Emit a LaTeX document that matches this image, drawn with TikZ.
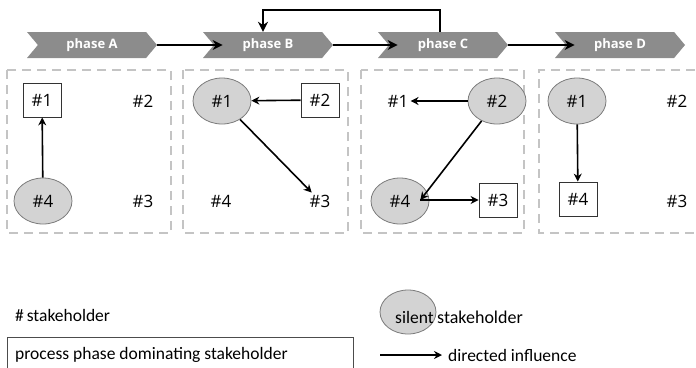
\documentclass[tikz,border=0pt]{standalone}
\usepackage{fontspec}
\setmainfont{Carlito}
\newfontfamily\labfont{Open Sans}
\usetikzlibrary{shapes.geometric,shapes.symbols,arrows.meta}
\definecolor{phasegray}{HTML}{8C8C8C}
\definecolor{dashgray}{HTML}{C4C4C4}
\definecolor{silentfill}{HTML}{D3D3D3}
\definecolor{silentline}{HTML}{7A7A7A}
\tikzset{
  phasebox/.style={signal, signal to=east, signal from=west, signal pointer angle=100,
    fill=phasegray, draw=none, minimum width=130pt, minimum height=26pt, inner sep=0pt,
    text=white, font=\labfont\bfseries\fontsize{13}{15}\selectfont},
  phasearr/.style={line width=2.6pt, -{Stealth[length=10pt,width=10pt]}},
  infl/.style={line width=1.6pt, -{Stealth[length=8pt,width=8pt]}},
  zone/.style={dashgray, line width=2pt, dash pattern=on 9pt off 6pt},
  stake/.style={font=\labfont\fontsize{17}{20}\selectfont, inner sep=2pt},
  dom/.style={stake, draw=black!80, line width=0.8pt, minimum width=38pt, minimum height=34pt},
  silent/.style={stake, ellipse, fill=silentfill, draw=silentline, line width=0.8pt,
    minimum width=58pt, minimum height=46pt, inner sep=0pt},
  legend/.style={font=\fontsize{17.5}{20}\selectfont, inner sep=0pt, anchor=west}
}
\begin{document}
\begin{tikzpicture}[x=1pt, y=-1pt]
\useasboundingbox (0,0) rectangle (696,367);

% process phases
\node[phasebox] (pa) at (92,45) {phase A};
\node[phasebox] (pb) at (268,45) {phase B};
\node[phasebox] (pc) at (443,45) {phase C};
\node[phasebox] (pd) at (620,45) {phase D};
\draw[phasearr] (pa.east) -- ([xshift=9pt]pb.west);
\draw[phasearr] (pb.east) -- ([xshift=9pt]pc.west);
\draw[phasearr] (pc.east) -- ([xshift=9pt]pd.west);
\draw[phasearr] ([xshift=-3pt]pc.north) -- ++(0,-22) -| ([xshift=-5pt]pb.north);

% phase zones
\draw[zone] (7,70) rectangle (171,233);
\draw[zone] (183,70) rectangle (348,233);
\draw[zone] (361,70) rectangle (524,233);
\draw[zone] (710,70) -- (539,70) -- (539,233) -- (710,233);

% phase A
\node[dom] (a1) at (42,100) {\#1};
\node[stake] (a2) at (143,101) {\#2};
\node[silent] (a4) at (43,201) {\#4};
\node[stake] (a3) at (143,201) {\#3};
\draw[infl] (a4) -- (a1);

% phase B
\node[silent] (b1) at (222,101) {\#1};
\node[dom] (b2) at (320,100) {\#2};
\node[stake] (b4) at (221,201) {\#4};
\node[stake] (b3) at (320,201) {\#3};
\draw[infl] (b2) -- (b1);
\draw[infl] (b1) -- (b3);

% phase C
\node[stake] (c1) at (398,101) {\#1};
\node[silent] (c2) at (497,101) {\#2};
\node[silent] (c4) at (400,201) {\#4};
\node[dom] (c3) at (498,200) {\#3};
\coordinate (c4in) at ([xshift=-9pt,yshift=1pt]c4.east);
\draw[infl] (c2) -- (c1);
\draw[infl] (c2) -- (c4in);
\draw[infl] (c4in) -- (c3.west);

% phase D
\node[silent] (d1) at (577,101) {\#1};
\node[stake] (d2) at (677,101) {\#2};
\node[dom] (d4) at (578,199) {\#4};
\node[stake] (d3) at (677,201) {\#3};
\draw[infl] (d1) -- (d4);

% legend
\node[legend] (k1) at (15,315) {\#\,stakeholder};
\draw[black!70, line width=0.8pt] (7,375) -- (7,337) -- (353,337) -- (353,375);
\node[legend] (k2) at (15,355) {process phase dominating stakeholder};
\node[silent, minimum width=56pt, minimum height=44pt] (k3) at (408,312) {};
\node[legend] (k4) at (395,317) {silent};
\node[legend, font=\fontsize{18}{20}\selectfont] (k5) at (437,317) {stakeholder};
\coordinate (ka) at (380,355);
\node[legend] (k6) at (448,355) {directed influence};
\draw[infl] (ka) -- ([xshift=-6pt]k6.west);
\end{tikzpicture}
\end{document}
